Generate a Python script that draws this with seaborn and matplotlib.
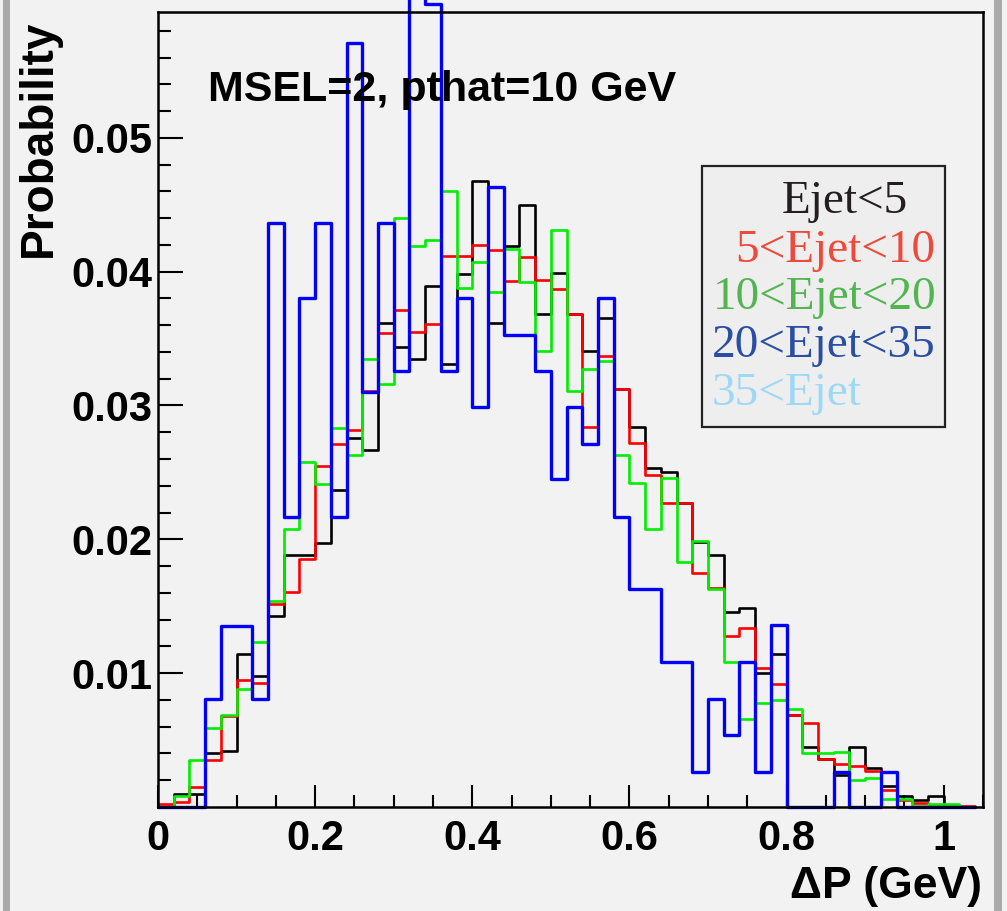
import numpy as np
import pandas as pd
import matplotlib
matplotlib.use("Agg")
import matplotlib.pyplot as plt
from matplotlib.patches import Rectangle
import seaborn as sns

# Histogram binning: 52 bins of 0.02 GeV starting at 0
bin_width = 0.02
n_bins = 52
bin_range = (0.0, n_bins * bin_width)
bin_centers = np.round(np.arange(n_bins) * bin_width + bin_width / 2, 4)

# Normalised dP distributions, one per jet-energy class
prob_ejet_lt5 = [
    0.0000, 0.0010, 0.0010, 0.0040, 0.0042, 0.0114, 0.0098, 0.0143, 0.0188, 0.0188,
    0.0197, 0.0237, 0.0276, 0.0267, 0.0362, 0.0344, 0.0335, 0.0389, 0.0331, 0.0398,
    0.0468, 0.0362, 0.0419, 0.0450, 0.0368, 0.0399, 0.0368, 0.0341, 0.0365, 0.0312,
    0.0284, 0.0253, 0.0250, 0.0227, 0.0198, 0.0188, 0.0146, 0.0149, 0.0100, 0.0114,
    0.0069, 0.0045, 0.0036, 0.0024, 0.0045, 0.0029, 0.0016, 0.0008, 0.0005, 0.0008,
    0.0000, 0.0000,
]
prob_ejet_5_10 = [
    0.0002, 0.0004, 0.0015, 0.0035, 0.0068, 0.0095, 0.0093, 0.0152, 0.0161, 0.0185,
    0.0255, 0.0271, 0.0282, 0.0311, 0.0354, 0.0371, 0.0355, 0.0361, 0.0412, 0.0412,
    0.0420, 0.0416, 0.0393, 0.0411, 0.0394, 0.0387, 0.0368, 0.0284, 0.0337, 0.0312,
    0.0272, 0.0248, 0.0227, 0.0227, 0.0175, 0.0164, 0.0128, 0.0134, 0.0104, 0.0092,
    0.0069, 0.0063, 0.0036, 0.0032, 0.0031, 0.0027, 0.0013, 0.0005, 0.0003, 0.0001,
    0.0001, 0.0001,
]
prob_ejet_10_20 = [
    0.0000, 0.0008, 0.0035, 0.0059, 0.0069, 0.0088, 0.0123, 0.0154, 0.0208, 0.0258,
    0.0241, 0.0283, 0.0263, 0.0335, 0.0316, 0.0440, 0.0419, 0.0424, 0.0460, 0.0388,
    0.0407, 0.0385, 0.0417, 0.0392, 0.0341, 0.0431, 0.0311, 0.0327, 0.0333, 0.0263,
    0.0242, 0.0208, 0.0246, 0.0183, 0.0199, 0.0163, 0.0108, 0.0066, 0.0078, 0.0080,
    0.0073, 0.0040, 0.0040, 0.0041, 0.0020, 0.0022, 0.0006, 0.0006, 0.0001, 0.0002,
    0.0002, 0.0000,
]
prob_ejet_20_35 = [
    0.0000, 0.0000, 0.0000, 0.0081, 0.0135, 0.0135, 0.0081, 0.0436, 0.0217, 0.0380,
    0.0436, 0.0217, 0.0571, 0.0310, 0.0436, 0.0326, 0.0626, 0.0600, 0.0326, 0.0380,
    0.0299, 0.0463, 0.0353, 0.0353, 0.0326, 0.0245, 0.0299, 0.0271, 0.0380, 0.0217,
    0.0163, 0.0163, 0.0108, 0.0108, 0.0026, 0.0081, 0.0054, 0.0108, 0.0026, 0.0136,
    0.0000, 0.0000, 0.0000, 0.0026, 0.0000, 0.0000, 0.0026, 0.0000, 0.0000, 0.0000,
    0.0000, 0.0000,
]

series_names = ["Ejet<5", "5<Ejet<10", "10<Ejet<20", "20<Ejet<35"]
series_values = [prob_ejet_lt5, prob_ejet_5_10, prob_ejet_10_20, prob_ejet_20_35]
line_colors = ["#000000", "#ff0000", "#00ee00", "#0000ff"]
line_widths = [1.9, 1.9, 1.9, 2.4]

legend_labels = ["Ejet<5", "5<Ejet<10", "10<Ejet<20", "20<Ejet<35", "35<Ejet"]
legend_colors = ["#231f20", "#ee4a3c", "#52b54f", "#2a4ea3", "#9dd9f7"]

x_tick_values = [0, 0.2, 0.4, 0.6, 0.8, 1.0]
x_tick_labels = ["0", "0.2", "0.4", "0.6", "0.8", "1"]
y_tick_values = [0.01, 0.02, 0.03, 0.04, 0.05]
y_tick_labels = ["0.01", "0.02", "0.03", "0.04", "0.05"]

frames = []
for name, vals in zip(series_names, series_values):
    frames.append(pd.DataFrame({"dp": bin_centers, "prob": vals, "sample": name}))
hist_df = pd.concat(frames, ignore_index=True)

sns.set_style("ticks")
plt.rcParams["font.family"] = ["Liberation Sans", "DejaVu Sans"]
plt.rcParams["text.color"] = "black"
plt.rcParams["xtick.color"] = "black"
plt.rcParams["ytick.color"] = "black"
plt.rcParams["xtick.labelcolor"] = "black"
plt.rcParams["ytick.labelcolor"] = "black"

bg = "#f2f2f2"
W, H = 1007, 911
fig = plt.figure(figsize=(W / 100, H / 100), dpi=100, facecolor=bg)

# side bars of the canvas
fig.patches.append(Rectangle((3 / W, 0), 7 / W, 1, transform=fig.transFigure,
                             facecolor="#aaaaaa", edgecolor="none", zorder=0))
fig.patches.append(Rectangle((994 / W, 0), 8 / W, 1, transform=fig.transFigure,
                             facecolor="#aaaaaa", edgecolor="none", zorder=0))

ax = fig.add_axes([158 / W, 1 - 807 / H, (983 - 158) / W, (807 - 12) / H])
ax.set_facecolor(bg)

for name, color, lw in zip(series_names, line_colors, line_widths):
    sub = hist_df[hist_df["sample"] == name]
    sns.histplot(data=sub, x="dp", weights="prob", binwidth=bin_width,
                 binrange=bin_range, element="step", fill=False,
                 color=color, linewidth=lw, ax=ax)
    ax.lines[-1].set_clip_on(False)

ax.set_xlim(0, 1.05)
ax.set_ylim(0, 0.0594)
ax.set_xlabel("")
ax.set_ylabel("")

ax.set_xticks(x_tick_values)
ax.set_xticklabels(x_tick_labels)
ax.set_xticks(np.arange(0, 1.051, 0.05), minor=True)
ax.set_yticks(y_tick_values)
ax.set_yticklabels(y_tick_labels)
ax.set_yticks(np.arange(0, 0.0594, 0.002), minor=True)

ax.tick_params(axis="x", which="major", direction="in", length=16, width=1.5,
               labelsize=30, pad=9, colors="black")
ax.tick_params(axis="x", which="minor", direction="in", length=8.5, width=1.5,
               colors="black")
ax.tick_params(axis="y", which="major", direction="in", length=18, width=1.5,
               labelsize=30, pad=4, colors="black")
ax.tick_params(axis="y", which="minor", direction="in", length=9, width=1.5,
               colors="black")
for lbl in ax.get_xticklabels() + ax.get_yticklabels():
    lbl.set_fontweight("bold")
    lbl.set_color("black")

for side in ["left", "right", "top", "bottom"]:
    ax.spines[side].set_visible(True)
    ax.spines[side].set_color("black")
    ax.spines[side].set_linewidth(1.8)
    ax.spines[side].set_zorder(5)

# headline and axis titles
fig.text(208 / W, 1 - 101 / H, "MSEL=2, pthat=10 GeV", fontsize=31,
         fontweight="bold", color="black", ha="left", va="baseline")
fig.text(39 / W, 1 - 20 / H, "Probability", fontsize=33, fontweight="bold",
         color="black", rotation=90, ha="center", va="top")
fig.text(982 / W, 1 - 898 / H, "\u0394P (GeV)", fontsize=32, fontweight="bold",
         color="black", ha="right", va="baseline")

# text-only legend box
fig.patches.append(Rectangle((702 / W, 1 - 427 / H), (945 - 702) / W, (427 - 166) / H,
                             transform=fig.transFigure, facecolor="#eeeeee",
                             edgecolor="#222222", linewidth=1.6, zorder=6))
legend_x = [782, 735, 713, 712, 712]
legend_base = [213, 262, 309, 357, 405]
for lab, col, lx, ly in zip(legend_labels, legend_colors, legend_x, legend_base):
    fig.text(lx / W, 1 - ly / H, lab, fontsize=34, color=col,
             family=["Liberation Serif", "DejaVu Serif"],
             ha="left", va="baseline", zorder=7)

fig.savefig("out.png", dpi=100, facecolor=bg)
